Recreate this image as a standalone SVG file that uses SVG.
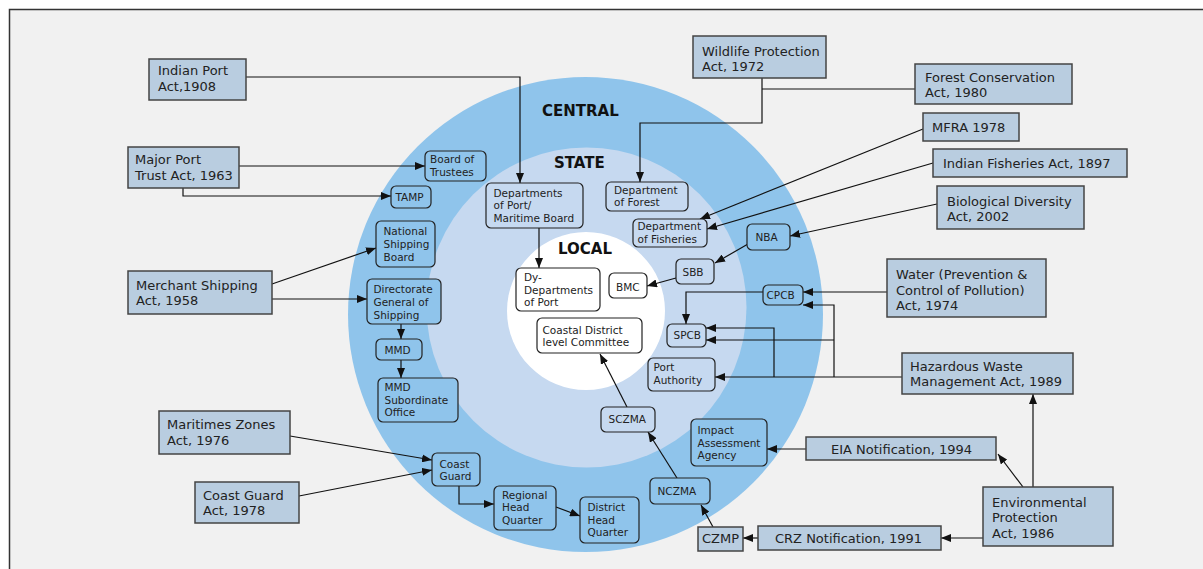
<svg xmlns="http://www.w3.org/2000/svg" width="1203" height="569" viewBox="0 0 1203 569">
<defs>
<marker id="ah" markerUnits="userSpaceOnUse" viewBox="0 0 10 8" markerWidth="10" markerHeight="8" refX="10" refY="4" orient="auto"><path d="M0,0 L10,4 L0,8 z" fill="#111"/></marker>
<style>
.act rect{fill:#b9cde0;stroke:#444;stroke-width:1.5}
.act text{font-family:"DejaVu Sans",Verdana,sans-serif;font-size:13px;fill:#222}
.nd rect{stroke:#222;stroke-width:1.2}
.nd text{font-family:"DejaVu Sans",Verdana,sans-serif;font-size:10.5px;fill:#222}
.c rect{fill:#8fc4eb}
.s rect{fill:#c6d9f0}
.l rect{fill:#ffffff}
.ring{font-family:"DejaVu Sans",Verdana,sans-serif;font-size:15px;font-weight:bold;fill:#111}
#connectors path{fill:none;stroke:#111;stroke-width:1.2}
</style>
</defs>
<rect width="1203" height="569" fill="#ffffff"/>
<rect x="9.5" y="9.5" width="1205" height="570" fill="#f1f1f1" stroke="#333" stroke-width="1.5"/>
<g id="rings">
<circle cx="585.5" cy="314.5" r="237.5" fill="#8fc4eb"/>
<circle cx="586.5" cy="307.5" r="160" fill="#c6d9f0"/>
<circle cx="586" cy="311" r="79" fill="#ffffff"/>
<text class="ring" x="542" y="116">CENTRAL</text>
<text class="ring" x="554" y="168">STATE</text>
<text class="ring" x="558" y="254">LOCAL</text>
</g>
<g id="connectors">
<path d="M246,77 H520 V183" marker-end="url(#ah)"/>
<path d="M239,166 H425" marker-end="url(#ah)"/>
<path d="M183,188 V196 H391" marker-end="url(#ah)"/>
<path d="M272,284 L376,248" marker-end="url(#ah)"/>
<path d="M272,299 H367" marker-end="url(#ah)"/>
<path d="M401,324 V339" marker-end="url(#ah)"/>
<path d="M401,360 V378" marker-end="url(#ah)"/>
<path d="M290,436 L432,460" marker-end="url(#ah)"/>
<path d="M299,496 L432,470" marker-end="url(#ah)"/>
<path d="M459,486 V504 H494" marker-end="url(#ah)"/>
<path d="M556,507 L580,516" marker-end="url(#ah)"/>
<path d="M762,78 V123 H640 V182" marker-end="url(#ah)"/>
<path d="M762,89 H915"/>
<path d="M923,129 L700,219" marker-end="url(#ah)"/>
<path d="M933,163 L707,229" marker-end="url(#ah)"/>
<path d="M937,204 L790,236" marker-end="url(#ah)"/>
<path d="M748,244 L715,263" marker-end="url(#ah)"/>
<path d="M676,278 L647,286" marker-end="url(#ah)"/>
<path d="M887,292 H803" marker-end="url(#ah)"/>
<path d="M763,292 H686 V324" marker-end="url(#ah)"/>
<path d="M902,377 H715" marker-end="url(#ah)"/>
<path d="M834,377 V305 H803" marker-end="url(#ah)"/>
<path d="M834,340 H706" marker-end="url(#ah)"/>
<path d="M774,377 V328 H706" marker-end="url(#ah)"/>
<path d="M1033,487 V394" marker-end="url(#ah)"/>
<path d="M1023,487 L998,454" marker-end="url(#ah)"/>
<path d="M983,538 H941" marker-end="url(#ah)"/>
<path d="M758,538 H743" marker-end="url(#ah)"/>
<path d="M806,449 H767" marker-end="url(#ah)"/>
<path d="M713,527 L701,505" marker-end="url(#ah)"/>
<path d="M677,478 L648,432" marker-end="url(#ah)"/>
<path d="M627,407 L600,354" marker-end="url(#ah)"/>
<path d="M539,228 V268" marker-end="url(#ah)"/>
</g>
<g id="indian-port-act" class="act"><rect x="149" y="59" width="97" height="41"/><text x="158" y="75">Indian Port</text><text x="158" y="91">Act,1908</text></g>
<g id="major-port-trust-act" class="act"><rect x="128" y="147" width="111" height="41"/><text x="135" y="164">Major Port</text><text x="135" y="180">Trust Act, 1963</text></g>
<g id="wildlife-act" class="act"><rect x="693" y="36" width="133" height="42"/><text x="702" y="55.5">Wildlife Protection</text><text x="702" y="71">Act, 1972</text></g>
<g id="forest-act" class="act"><rect x="915" y="64" width="157" height="40"/><text x="925" y="81.5">Forest Conservation</text><text x="925" y="96.5">Act, 1980</text></g>
<g id="mfra" class="act"><rect x="923" y="113" width="96" height="28"/><text x="932" y="131.5">MFRA 1978</text></g>
<g id="indian-fisheries-act" class="act"><rect x="933" y="149" width="194" height="28"/><text x="943" y="168">Indian Fisheries Act, 1897</text></g>
<g id="biodiversity-act" class="act"><rect x="937" y="186" width="147" height="43"/><text x="947" y="205.5">Biological Diversity</text><text x="947" y="220.5">Act, 2002</text></g>
<g id="water-act" class="act"><rect x="887" y="259" width="159" height="58"/><text x="896" y="279">Water (Prevention &amp;</text><text x="896" y="294.5">Control of Pollution)</text><text x="896" y="310">Act, 1974</text></g>
<g id="hazardous-act" class="act"><rect x="902" y="353" width="171" height="41"/><text x="910" y="370.5">Hazardous Waste</text><text x="910" y="385.5">Management Act, 1989</text></g>
<g id="merchant-shipping-act" class="act"><rect x="128" y="271" width="144" height="43"/><text x="136" y="290">Merchant Shipping</text><text x="136" y="305">Act, 1958</text></g>
<g id="maritime-zones-act" class="act"><rect x="159" y="411" width="131" height="43"/><text x="167" y="429">Maritimes Zones</text><text x="167" y="445">Act, 1976</text></g>
<g id="coast-guard-act" class="act"><rect x="195" y="482" width="104" height="41"/><text x="203" y="499.5">Coast Guard</text><text x="203" y="515">Act, 1978</text></g>
<g id="eia" class="act"><rect x="806" y="437" width="190" height="23"/><text x="831" y="454">EIA Notification, 1994</text></g>
<g id="crz" class="act"><rect x="758" y="526" width="183" height="24"/><text x="775" y="542.5">CRZ Notification, 1991</text></g>
<g id="epa" class="act"><rect x="983" y="487" width="130" height="59"/><text x="992" y="507">Environmental</text><text x="992" y="522">Protection</text><text x="992" y="538">Act, 1986</text></g>
<g id="czmp" class="act"><rect x="698" y="527" width="45" height="24"/><text x="702" y="542.5">CZMP</text></g>
<g id="board-of-trustees" class="nd c"><rect x="425" y="151" width="61" height="30" rx="5"/><text x="430" y="163">Board of</text><text x="430" y="176">Trustees</text></g>
<g id="tamp" class="nd c"><rect x="391" y="186" width="40" height="22" rx="5"/><text x="395.5" y="200.5">TAMP</text></g>
<g id="national-shipping-board" class="nd c"><rect x="376" y="221" width="59" height="46" rx="5"/><text x="383.5" y="235">National</text><text x="383.5" y="248">Shipping</text><text x="383.5" y="261">Board</text></g>
<g id="dg-shipping" class="nd c"><rect x="367" y="279" width="74" height="45" rx="5"/><text x="373.5" y="293">Directorate</text><text x="373.5" y="306">General of</text><text x="373.5" y="318.5">Shipping</text></g>
<g id="mmd" class="nd c"><rect x="376" y="339" width="46" height="21" rx="5"/><text x="384.5" y="354">MMD</text></g>
<g id="mmd-sub" class="nd c"><rect x="378" y="378" width="80" height="44" rx="5"/><text x="384.5" y="391">MMD</text><text x="384.5" y="404">Subordinate</text><text x="384.5" y="416">Office</text></g>
<g id="coast-guard" class="nd c"><rect x="432" y="453" width="48" height="33" rx="5"/><text x="439.5" y="467.5">Coast</text><text x="439.5" y="480">Guard</text></g>
<g id="regional-hq" class="nd c"><rect x="494" y="486" width="62" height="44" rx="5"/><text x="502" y="498.5">Regional</text><text x="502" y="511">Head</text><text x="502" y="524">Quarter</text></g>
<g id="district-hq" class="nd c"><rect x="580" y="497" width="59" height="46" rx="5"/><text x="587.5" y="511">District</text><text x="587.5" y="523.5">Head</text><text x="587.5" y="536">Quarter</text></g>
<g id="nczma" class="nd c"><rect x="650" y="478" width="60" height="26" rx="5"/><text x="657.5" y="495">NCZMA</text></g>
<g id="iaa" class="nd c"><rect x="691" y="419" width="76" height="47" rx="5"/><text x="697.5" y="434">Impact</text><text x="697.5" y="446.5">Assessment</text><text x="697.5" y="459">Agency</text></g>
<g id="cpcb" class="nd c"><rect x="763" y="285" width="40" height="20" rx="5"/><text x="766.5" y="299">CPCB</text></g>
<g id="nba" class="nd c"><rect x="747" y="224" width="43" height="26" rx="5"/><text x="755.5" y="241">NBA</text></g>
<g id="sczma" class="nd s"><rect x="601" y="407" width="54" height="25" rx="5"/><text x="608.5" y="423">SCZMA</text></g>
<g id="port-authority" class="nd s"><rect x="648" y="358" width="67" height="33" rx="5"/><text x="653.5" y="371">Port</text><text x="653.5" y="384">Authority</text></g>
<g id="spcb" class="nd s"><rect x="667" y="324" width="39" height="23" rx="5"/><text x="673.5" y="339">SPCB</text></g>
<g id="sbb" class="nd s"><rect x="676" y="259" width="38" height="25" rx="5"/><text x="682.5" y="276">SBB</text></g>
<g id="dept-fisheries" class="nd s"><rect x="633" y="219" width="74" height="28" rx="5"/><text x="637.5" y="230">Department</text><text x="637.5" y="243">of Fisheries</text></g>
<g id="dept-forest" class="nd s"><rect x="606" y="182" width="82" height="29" rx="5"/><text x="614" y="194">Department</text><text x="614" y="206">of Forest</text></g>
<g id="dept-port" class="nd s"><rect x="486" y="183" width="97" height="45" rx="5"/><text x="493.5" y="196.5">Departments</text><text x="493.5" y="209">of Port/</text><text x="493.5" y="222">Maritime Board</text></g>
<g id="bmc" class="nd l"><rect x="609" y="273" width="38" height="25" rx="5"/><text x="616" y="291">BMC</text></g>
<g id="dy-dept" class="nd l"><rect x="516" y="268" width="84" height="43" rx="5"/><text x="524" y="281">Dy-</text><text x="524" y="294">Departments</text><text x="524" y="306">of Port</text></g>
<g id="coastal-district" class="nd l"><rect x="537" y="318" width="105" height="35" rx="5"/><text x="542.5" y="333.5">Coastal District</text><text x="542.5" y="346">level Committee</text></g>
</svg>
